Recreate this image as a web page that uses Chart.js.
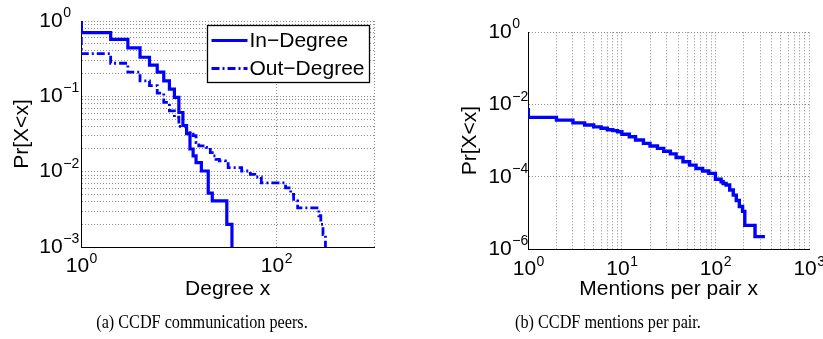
<!DOCTYPE html>
<html><head><meta charset="utf-8">
<script src="https://cdn.jsdelivr.net/npm/chart.js@4/dist/chart.umd.min.js"></script>
<style>
html,body{margin:0;padding:0;background:#fff;width:823px;height:339px;overflow:hidden;position:relative;}
#wrapA{position:absolute;left:0;top:0;width:410px;height:310px;}
#wrapB{position:absolute;left:410px;top:0;width:413px;height:310px;}
.cap{position:absolute;top:309px;font-family:"Liberation Serif","Times New Roman",serif;font-size:18px;line-height:26px;white-space:nowrap;color:#000;transform:translateX(-50%) scaleX(0.9);}
#capA{left:202px;}
#capB{left:608px;}
</style></head><body>
<div id="wrapA"><canvas id="cA" width="410" height="310"></canvas></div>
<div id="wrapB"><canvas id="cB" width="413" height="310"></canvas></div>
<div class="cap" id="capA">(a) CCDF communication peers.</div>
<div class="cap" id="capB">(b) CCDF mentions per pair.</div>
<script>
// ---- data ----
const inDegreeX  = [1, 1, 2, 3, 4, 5, 6, 7, 8, 9, 10, 11, 12, 13, 14, 15, 17, 20, 22, 31, 35, 37];
const inDegreeY  = [1, 0.88, 0.70, 0.57, 0.44, 0.33, 0.26, 0.21, 0.16, 0.125, 0.097, 0.061, 0.041, 0.032, 0.020, 0.0162, 0.0132, 0.0102, 0.0052, 0.0041, 0.0020, 0.0006];
const outDegreeX = [1, 1, 2, 3, 4, 5, 6, 7, 8, 9, 10, 12, 13, 14, 15, 16, 19, 21, 22, 24, 26, 30, 32, 44, 54, 60, 70, 124, 140, 150, 165, 272, 285, 300, 318, 330];
const outDegreeY = [1, 0.57, 0.37, 0.275, 0.21, 0.16, 0.139, 0.11, 0.083, 0.064, 0.053, 0.040, 0.035, 0.0315, 0.030, 0.0244, 0.022, 0.021, 0.0179, 0.0162, 0.0146, 0.0139, 0.0128, 0.0113, 0.0102, 0.0092, 0.0085, 0.0071, 0.0061, 0.0050, 0.0041, 0.0033, 0.0026, 0.0020, 0.00146, 0.0005];
const mentionsX  = [1, 1, 2, 3, 4, 5, 6, 7, 8, 9, 10, 12, 14, 17, 20, 24, 28, 33, 38, 45, 53, 62, 73, 85, 100, 115, 121, 130, 142, 155, 167, 180, 195, 206, 265, 287, 338];
const mentionsY  = [0.008, 0.0055, 0.0044, 0.0037, 0.0031, 0.0027, 0.0024, 0.0022, 0.0020, 0.0019, 0.00177, 0.0015, 0.00128, 0.00104, 0.00084, 0.00071, 0.00061, 0.00051, 0.00043, 0.00034, 0.00026, 0.00021, 0.00017, 0.000145, 0.000124, 0.000085, 0.000073, 0.000065, 0.000059, 0.000043, 0.000031, 0.000022, 0.000015, 0.000011, 0.0000045, 0.0000022, 0.0000022];

const seriesLabels = ['In\u2212Degree', 'Out\u2212Degree'];

// ---- ticks (value, and exponent shown as 10^exp; '' = no label) ----
const degreeXTicks   = [1, 100, 1000];
const degreeXExps    = ['0', '2', ''];
const degreeYMajor   = [0.001, 0.01, 0.1, 1];
const degreeYExps    = ['\u22123', '\u22122', '\u22121', '0'];
const mentionsXMajor = [1, 10, 100, 1000];
const mentionsXExps  = ['0', '1', '2', '3'];
const mentionsYMajor = [1e-6, 1e-4, 1e-2, 1];
const mentionsYExps  = ['\u22126', '\u22124', '\u22122', '0'];

const FONT = '"Liberation Sans", Arial, Helvetica, sans-serif';
const BLUE = '#0000ff';
const GRID = '#8c8c8c';

function withMinors(majors) {
  const out = [];
  for (let i = 0; i < majors.length; i++) {
    out.push(majors[i]);
    if (i < majors.length - 1) for (let k = 2; k <= 9; k++) out.push(majors[i] * k);
  }
  return out;
}
function labeler(values, exps) {
  return (v) => {
    const i = values.findIndex(m => Math.abs(m - v) / m < 1e-6);
    return (i >= 0 && exps[i] !== '') ? '10^' + exps[i] : '';
  };
}
function pts(xs, ys) { return xs.map((x, i) => ({x, y: ys[i]})); }

// draws "10" with a raised exponent at the library's tick positions
const powTicks = {
  id: 'powTicks',
  afterDraw(chart, args, o) {
    if (!o || !o.axes) return;
    const ctx = chart.ctx;
    ctx.save();
    ctx.fillStyle = '#000';
    ctx.textAlign = 'left';
    for (const spec of o.axes) {
      const s = chart.scales[spec.id];
      s.ticks.forEach((t) => {
        const lab = spec.fmt(t.value);
        if (!lab) return;
        const exp = lab.slice(3);
        const p = s.getPixelForValue(t.value);
        ctx.font = '21px ' + FONT; const wb = ctx.measureText('10').width;
        ctx.font = '14px ' + FONT; const we = ctx.measureText(exp).width;
        let bx, cy;
        if (s.isHorizontal()) { bx = p - (wb + we) / 2; cy = s.top + spec.off; }
        else { bx = s.right - spec.off - wb; cy = p; }
        ctx.font = '21px ' + FONT; ctx.textBaseline = 'middle';
        ctx.fillText('10', bx, cy);
        ctx.font = '14px ' + FONT; ctx.textBaseline = 'alphabetic';
        ctx.fillText(exp, bx + wb + 0.5, cy - 4);
      });
    }
    ctx.restore();
  }
};

const legendBox = {
  id: 'legendBox',
  afterDatasetsDraw(chart, args, o) {
    if (!o || !o.show) return;
    const ctx = chart.ctx;
    ctx.save();
    ctx.fillStyle = '#fff';
    ctx.fillRect(o.x, o.y, o.w, o.h);
    ctx.strokeStyle = '#000'; ctx.lineWidth = 1.3; ctx.setLineDash([]);
    ctx.strokeRect(o.x, o.y, o.w, o.h);
    chart.data.datasets.forEach((ds, i) => {
      const cy = o.y + o.first + i * o.row;
      ctx.beginPath();
      ctx.setLineDash(ds.borderDash || []);
      ctx.strokeStyle = ds.borderColor; ctx.lineWidth = ds.borderWidth;
      ctx.moveTo(o.x + 4, cy); ctx.lineTo(o.x + 4 + o.len, cy); ctx.stroke();
      ctx.setLineDash([]);
      ctx.fillStyle = '#000'; ctx.font = '21px ' + FONT;
      ctx.textBaseline = 'middle'; ctx.textAlign = 'left';
      ctx.fillText(ds.label, o.x + 6 + o.len, cy + 1);
    });
    ctx.restore();
  }
};

function axis(extra) {
  return Object.assign({
    type: 'logarithmic',
    grid: {color: GRID, lineWidth: 1, drawTicks: false},
    border: {display: true, color: '#000', width: 1, dash: [1, 2]},
  }, extra);
}
const hiddenTicks = (fmt) => ({display: false, autoSkip: false, maxRotation: 0, callback: fmt});
const titleFont = {family: FONT, size: 21};

const fDegX = labeler(degreeXTicks, degreeXExps);
const fDegY = labeler(degreeYMajor, degreeYExps);
const fMenX = labeler(mentionsXMajor, mentionsXExps);
const fMenY = labeler(mentionsYMajor, mentionsYExps);

// ---- chart (a) ----
new Chart(document.getElementById('cA'), {
  type: 'line',
  data: {datasets: [
    {label: seriesLabels[0], data: pts(inDegreeX, inDegreeY), borderColor: BLUE, borderWidth: 3.2, stepped: 'after', pointRadius: 0, fill: false, clip: 0},
    {label: seriesLabels[1], data: pts(outDegreeX, outDegreeY), borderColor: BLUE, borderWidth: 2.8, borderDash: [8, 3, 2, 3], stepped: 'after', pointRadius: 0, fill: false, clip: 0}
  ]},
  options: {
    responsive: false, animation: false, devicePixelRatio: 1,
    layout: {padding: {left: 0, top: 21, right: 36, bottom: 0}},
    plugins: {legend: {display: false}, tooltip: {enabled: false},
      legendBox: {show: true, x: 207.5, y: 25.5, w: 162, h: 57, first: 15, row: 28, len: 36},
      powTicks: {axes: [{id: 'x', off: 19.5, fmt: fDegX}, {id: 'y', off: 18.6, fmt: fDegY}]}},
    scales: {
      x: axis({min: 1, max: 1000,
        afterBuildTicks: s => { s.ticks = degreeXTicks.map(v => ({value: v})); },
        afterFit: s => { s.height = 63; },
        ticks: hiddenTicks(fDegX),
        title: {display: true, text: 'Degree x', color: '#000', font: titleFont, padding: {top: 0, bottom: 8}}
      }),
      y: axis({min: 0.001, max: 1,
        afterBuildTicks: s => { s.ticks = withMinors(degreeYMajor).map(v => ({value: v})); },
        afterFit: s => { s.width = 81.3; },
        ticks: hiddenTicks(fDegY),
        title: {display: true, text: 'Pr[X<x]', color: '#000', font: titleFont, padding: {top: 9.4, bottom: 0}}
      })
    }
  },
  plugins: [legendBox, powTicks]
});

// ---- chart (b) ----
new Chart(document.getElementById('cB'), {
  type: 'line',
  data: {datasets: [
    {label: 'Mentions per pair', data: pts(mentionsX, mentionsY), borderColor: BLUE, borderWidth: 3.4, stepped: 'after', pointRadius: 0, fill: false, clip: 0}
  ]},
  options: {
    responsive: false, animation: false, devicePixelRatio: 1,
    layout: {padding: {left: 0, top: 32.3, right: 14, bottom: 0}},
    plugins: {legend: {display: false}, tooltip: {enabled: false},
      powTicks: {axes: [{id: 'x', off: 20.5, fmt: fMenX}, {id: 'y', off: 16.5, fmt: fMenY}]}},
    scales: {
      x: axis({min: 1, max: 1000,
        afterBuildTicks: s => { s.ticks = withMinors(mentionsXMajor).map(v => ({value: v})); },
        afterFit: s => { s.height = 61; },
        ticks: hiddenTicks(fMenX),
        title: {display: true, text: 'Mentions per pair x', color: '#000', font: titleFont, padding: {top: 0, bottom: 8}}
      }),
      y: axis({min: 1e-6, max: 1,
        afterBuildTicks: s => { s.ticks = mentionsYMajor.map(v => ({value: v})); },
        afterFit: s => { s.width = 118.3; },
        ticks: hiddenTicks(fMenY),
        title: {display: true, text: 'Pr[X<x]', color: '#000', font: titleFont, padding: {top: 47.4, bottom: 0}}
      })
    }
  },
  plugins: [powTicks]
});
</script>
</body></html>
